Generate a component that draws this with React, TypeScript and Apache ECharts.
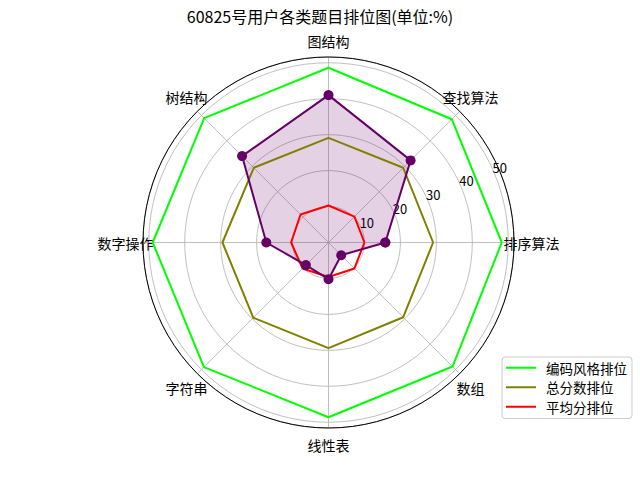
import React, { useEffect, useRef } from "react";
import * as echarts from "echarts";

const categories = ["排序算法", "查找算法", "图结构", "树结构", "数字操作", "字符串", "线性表", "数组"];
const styleRank = [48.2, 48.5, 48.6, 48.9, 48.9, 49.0, 48.6, 48.8];
const totalRank = [29.1, 29.4, 29.1, 29.4, 29.5, 29.6, 29.4, 29.4];
const avgRank = [10.0, 10.2, 10.3, 11.0, 10.4, 10.2, 9.6, 10.2];
const userRank = [15.8, 32.3, 41.0, 34.0, 17.3, 8.9, 10.2, 5.0];
const seriesNames = ["编码风格排位", "总分数排位", "平均分排位"];
const radiusTicks = [10, 20, 30, 40, 50];
const titleText = "60825号用户各类题目排位图(单位:%)";

const FONT = "'Noto Sans CJK SC', sans-serif";
const LINE_ICON = "path://M0,0L30,0L30,2L0,2Z";

function closed(vals: number[]) {
  const d = vals.map((v, i) => [v, i]);
  d.push([vals[0], 0]);
  return d;
}

export default function App() {
  const ref = useRef<HTMLDivElement>(null);
  useEffect(() => {
    if (!ref.current) return;
    const chart = echarts.init(ref.current, undefined, { renderer: "svg" });
    const RMAX = 51.6;
    const C = [328.5, 242.5];
    const R = 185.5;
    const hiddenAxis = {
      axisLine: { show: false },
      axisTick: { show: false },
      splitLine: { show: false },
      axisLabel: { show: false },
    };
    const labelText = { fontSize: 14, color: "#000", fontFamily: FONT, align: "center", verticalAlign: "middle" };
    const option: any = {
      animation: false,
      backgroundColor: "#ffffff",
      textStyle: { fontFamily: FONT },
      title: {
        text: titleText,
        left: "center",
        top: 3,
        textStyle: { fontSize: 16, fontWeight: "normal", color: "#000", fontFamily: FONT },
      },
      legend: {
        data: seriesNames.map((n) => ({ name: n, icon: LINE_ICON })),
        orient: "vertical",
        left: 502,
        top: 357,
        padding: [4, 5, 5, 4],
        itemWidth: 30,
        itemHeight: 14,
        itemGap: 6,
        borderColor: "#cccccc",
        borderWidth: 1,
        borderRadius: 3,
        backgroundColor: "rgba(255,255,255,0.8)",
        textStyle: { fontSize: 13.5, color: "#000", fontFamily: FONT, padding: [0, 0, 0, 5] },
      },
      polar: [
        { center: C, radius: R },
        { center: [342.4, 239.6], radius: R },
        { center: C, radius: R },
      ],
      angleAxis: [
        {
          polarIndex: 0,
          type: "category",
          data: categories,
          boundaryGap: true,
          startAngle: 337.5,
          clockwise: false,
          axisLine: { show: true, lineStyle: { color: "#000", width: 1 } },
          axisTick: { show: false },
          splitLine: { show: false },
          axisLabel: {
            margin: -35.5,
            color: "#000",
            formatter: (v: string) =>
              categories.indexOf(v) % 2 === 1 ? `{d|${v}}` : `{a|${v}}`,
            rich: {
              a: { ...labelText, width: 106, height: 104 },
              d: { ...labelText, width: 72, height: 78 },
            },
          },
        },
        {
          polarIndex: 1,
          type: "value",
          min: 0,
          max: 360,
          startAngle: 22.5,
          ...hiddenAxis,
        },
        {
          polarIndex: 2,
          type: "value",
          min: 0,
          max: 360,
          interval: 45,
          startAngle: 0,
          clockwise: false,
          axisLine: { show: false },
          axisTick: { show: false },
          axisLabel: { show: false },
          splitLine: { show: true, lineStyle: { color: "#b0b0b0", width: 0.8 } },
        },
      ],
      radiusAxis: [
        {
          polarIndex: 0,
          type: "value",
          min: 0,
          max: RMAX,
          interval: 10,
          axisLine: { show: false },
          axisTick: { show: false },
          axisLabel: { show: false },
          splitLine: { show: true, lineStyle: { color: "#b0b0b0", width: 0.8 } },
        },
        {
          polarIndex: 1,
          type: "value",
          min: 0,
          max: RMAX,
          interval: 10,
          axisLine: { show: false },
          axisTick: { show: false },
          splitLine: { show: false },
          axisLabel: {
            margin: 4,
            fontSize: 13,
            color: "#000",
            fontFamily: FONT,
            formatter: (v: number) => (radiusTicks.indexOf(v) >= 0 ? String(v) : ""),
          },
        },
        {
          polarIndex: 2,
          type: "value",
          min: 0,
          max: RMAX,
          ...hiddenAxis,
        },
      ],
      series: [
        {
          name: seriesNames[0],
          type: "line",
          coordinateSystem: "polar",
          polarIndex: 0,
          data: closed(styleRank),
          symbol: "none",
          lineStyle: { color: "#00ff00", width: 2 },
          itemStyle: { color: "#00ff00" },
        },
        {
          name: seriesNames[1],
          type: "line",
          coordinateSystem: "polar",
          polarIndex: 0,
          data: closed(totalRank),
          symbol: "none",
          lineStyle: { color: "#808000", width: 2 },
          itemStyle: { color: "#808000" },
        },
        {
          name: seriesNames[2],
          type: "line",
          coordinateSystem: "polar",
          polarIndex: 0,
          data: closed(avgRank),
          symbol: "none",
          lineStyle: { color: "#ff0000", width: 2 },
          itemStyle: { color: "#ff0000" },
        },
        {
          name: "用户排位",
          type: "line",
          coordinateSystem: "polar",
          polarIndex: 0,
          data: closed(userRank),
          symbol: "circle",
          symbolSize: 10,
          showAllSymbol: true,
          lineStyle: { color: "#660066", width: 2 },
          itemStyle: { color: "#660066" },
          areaStyle: { color: "rgba(102,0,102,0.25)" },
        },
      ],
    };
    chart.setOption(option);
    return () => chart.dispose();
  }, []);
  return (
    <div
      ref={ref}
      style={{ position: "fixed", left: 0, top: 0, width: 640, height: 480 }}
    />
  );
}
